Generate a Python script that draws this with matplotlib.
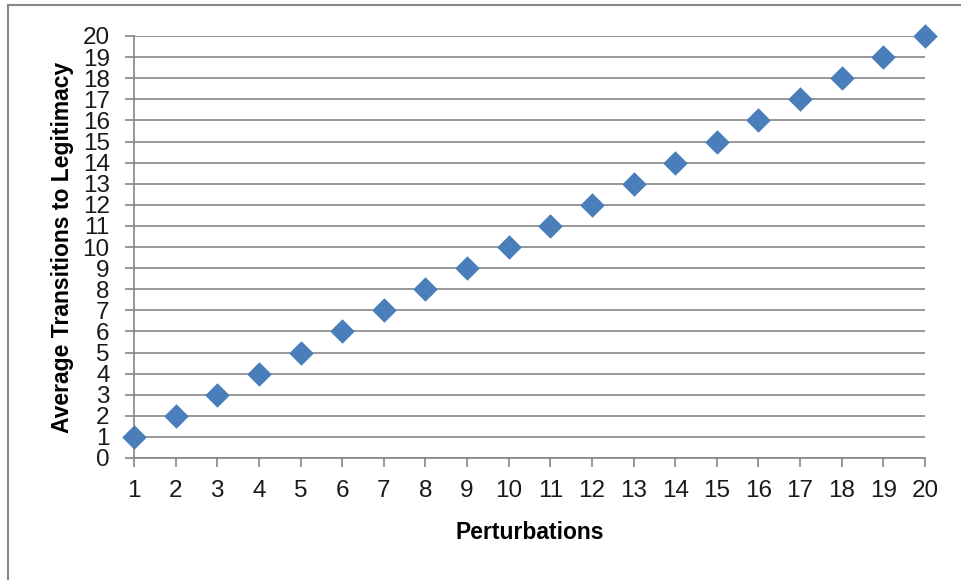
import numpy as np
import matplotlib
matplotlib.use("Agg")
import matplotlib.pyplot as plt
from matplotlib.lines import Line2D

# data
perturbations = [1, 2, 3, 4, 5, 6, 7, 8, 9, 10, 11, 12, 13, 14, 15, 16, 17, 18, 19, 20]
avg_transitions = [1, 2, 3, 4, 5, 6, 7, 8, 9, 10, 11, 12, 13, 14, 15, 16, 17, 18, 19, 20]

GRID = "#868686"
BLUE = "#4A7EBB"

plt.rcParams["font.family"] = ["Liberation Sans", "DejaVu Sans"]

fig = plt.figure(figsize=(9.61, 5.80), dpi=100)
ax = fig.add_axes([134 / 961, 1 - 458 / 580, (925 - 134) / 961, (458 - 36) / 580])

ax.scatter(perturbations, avg_transitions, marker="D", s=12.5 ** 2,
           color=BLUE, zorder=3, clip_on=False, linewidths=0)

ax.set_xlim(1, 20)
ax.set_ylim(0, 20)
ax.set_xticks(np.arange(1, 21))
ax.set_yticks(np.arange(0, 21))
ax.yaxis.grid(True, color=GRID, lw=1.2)
ax.set_axisbelow(True)

for side in ["top", "right"]:
    ax.spines[side].set_visible(False)
for side in ["left", "bottom"]:
    ax.spines[side].set_color(GRID)
    ax.spines[side].set_linewidth(1.2)

ax.tick_params(axis="both", direction="out", length=6.5, width=1.2,
               color=GRID, labelsize=17.5, labelcolor="#1a1a1a")
ax.tick_params(axis="x", pad=9)
ax.tick_params(axis="y", pad=11)

ax.set_xlabel("Perturbations", fontsize=16.5, fontweight="bold", labelpad=14)
ax.set_ylabel("Average Transitions to Legitimacy", fontsize=16.5,
              fontweight="bold", labelpad=6)

# outer chart frame (left and top edges visible)
fig.add_artist(Line2D([8 / 961, 8 / 961], [0, 1 - 5 / 580], transform=fig.transFigure,
                      color=GRID, lw=1.5))
fig.add_artist(Line2D([8 / 961, 1], [1 - 5 / 580, 1 - 5 / 580], transform=fig.transFigure,
                      color=GRID, lw=1.5))

fig.savefig("out.png", dpi=100)
plt.close(fig)
